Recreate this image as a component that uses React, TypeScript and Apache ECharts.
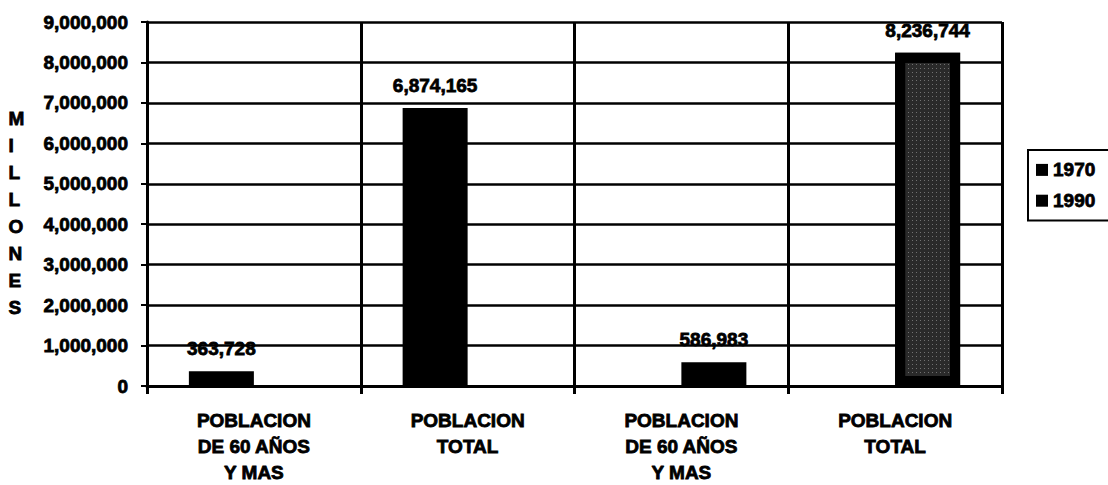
import React, { useEffect, useRef } from "react";
import * as echarts from "echarts";

const categories = [
  "POBLACION\nDE 60 AÑOS\nY MAS",
  "POBLACION\nTOTAL",
  "POBLACION\nDE 60 AÑOS\nY MAS",
  "POBLACION\nTOTAL",
];
const values1970 = [363728, 6874165, null, null];
const values1990 = [null, null, 586983, 8236744];
const seriesNames = ["1970", "1990"];
const yAxisTitle = "M\nI\nL\nL\nO\nN\nE\nS";

const FONT = "'Liberation Sans', Arial, sans-serif";
const fmt = (v: number) => Number(v).toLocaleString("en-US");
const heavy = { textBorderColor: "#000", textBorderWidth: 0.8 };

export default function App() {
  const ref = useRef<HTMLDivElement>(null);
  useEffect(() => {
    document.body.style.margin = "0";
    if (!ref.current) return;
    const chart = echarts.init(ref.current, undefined, { renderer: "svg" });
    const labelStyle = {
      show: true,
      position: "top",
      distance: 13,
      fontFamily: FONT,
      fontWeight: "bold",
      fontSize: 19,
      color: "#000",
      ...heavy,
      formatter: (p: any) => fmt(p.value),
    };
    chart.setOption({
      animation: false,
      backgroundColor: "#fff",
      textStyle: { fontFamily: FONT },
      grid: { left: 147, right: 106, top: 22, bottom: 96, containLabel: false },
      legend: {
        orient: "vertical",
        left: 1028,
        top: 150,
        icon: "rect",
        itemWidth: 12,
        itemHeight: 12,
        itemGap: 11,
        padding: [10, 45, 10, 8],
        borderColor: "#000",
        borderWidth: 2,
        data: seriesNames.map((n) => ({ name: n, itemStyle: { color: "#000" } })),
        textStyle: {
          fontFamily: FONT,
          fontWeight: "bold",
          fontSize: 19,
          color: "#000",
          ...heavy,
        },
      },
      graphic: [
        {
          type: "text",
          left: 8,
          top: 105,
          style: {
            text: yAxisTitle,
            fontFamily: FONT,
            fontWeight: "bold",
            fontSize: 19,
            lineHeight: 27,
            fill: "#000",
            stroke: "#000",
            lineWidth: 0.8,
            align: "center",
          },
        },
      ],
      xAxis: {
        type: "category",
        data: categories,
        boundaryGap: true,
        axisLine: { show: true, lineStyle: { color: "#000", width: 3 } },
        axisTick: { show: true, length: 8, lineStyle: { color: "#000", width: 3 } },
        splitLine: { show: true, lineStyle: { color: "#000", width: 3 } },
        axisLabel: {
          margin: 21,
          fontFamily: FONT,
          fontWeight: "bold",
          fontSize: 19,
          lineHeight: 26,
          color: "#000",
          ...heavy,
          interval: 0,
        },
      },
      yAxis: {
        type: "value",
        min: 0,
        max: 9000000,
        interval: 1000000,
        axisLine: { show: true, lineStyle: { color: "#000", width: 3 } },
        axisTick: { show: true, length: 6, lineStyle: { color: "#000", width: 2 } },
        splitLine: { show: true, lineStyle: { color: "#000", width: 2.5 } },
        axisLabel: {
          margin: 19,
          fontFamily: FONT,
          fontWeight: "bold",
          fontSize: 19,
          color: "#000",
          ...heavy,
          formatter: (v: number) => fmt(v),
        },
      },
      series: [
        {
          name: seriesNames[0],
          type: "bar",
          data: values1970,
          barWidth: 65,
          barGap: "0%",
          itemStyle: { color: "#000" },
          label: labelStyle,
        },
        {
          name: seriesNames[1],
          type: "bar",
          data: values1990.map((v, i) =>
            i === 3 && v != null
              ? {
                  value: v,
                  itemStyle: {
                    color: "#2a2a2a",
                    borderColor: "#000",
                    borderWidth: 10,
                    decal: {
                      symbol: "rect",
                      symbolSize: 1,
                      color: "rgba(200,200,200,0.45)",
                      dashArrayX: [1, 3],
                      dashArrayY: [1, 3],
                      rotation: 0,
                    },
                  },
                }
              : v
          ),
          barWidth: 65,
          barGap: "0%",
          itemStyle: { color: "#000" },
          label: labelStyle,
        },
      ],
    });
    return () => chart.dispose();
  }, []);
  return (
    <div
      ref={ref}
      style={{ width: 1108, height: 485, position: "fixed", left: 0, top: 0 }}
    />
  );
}
